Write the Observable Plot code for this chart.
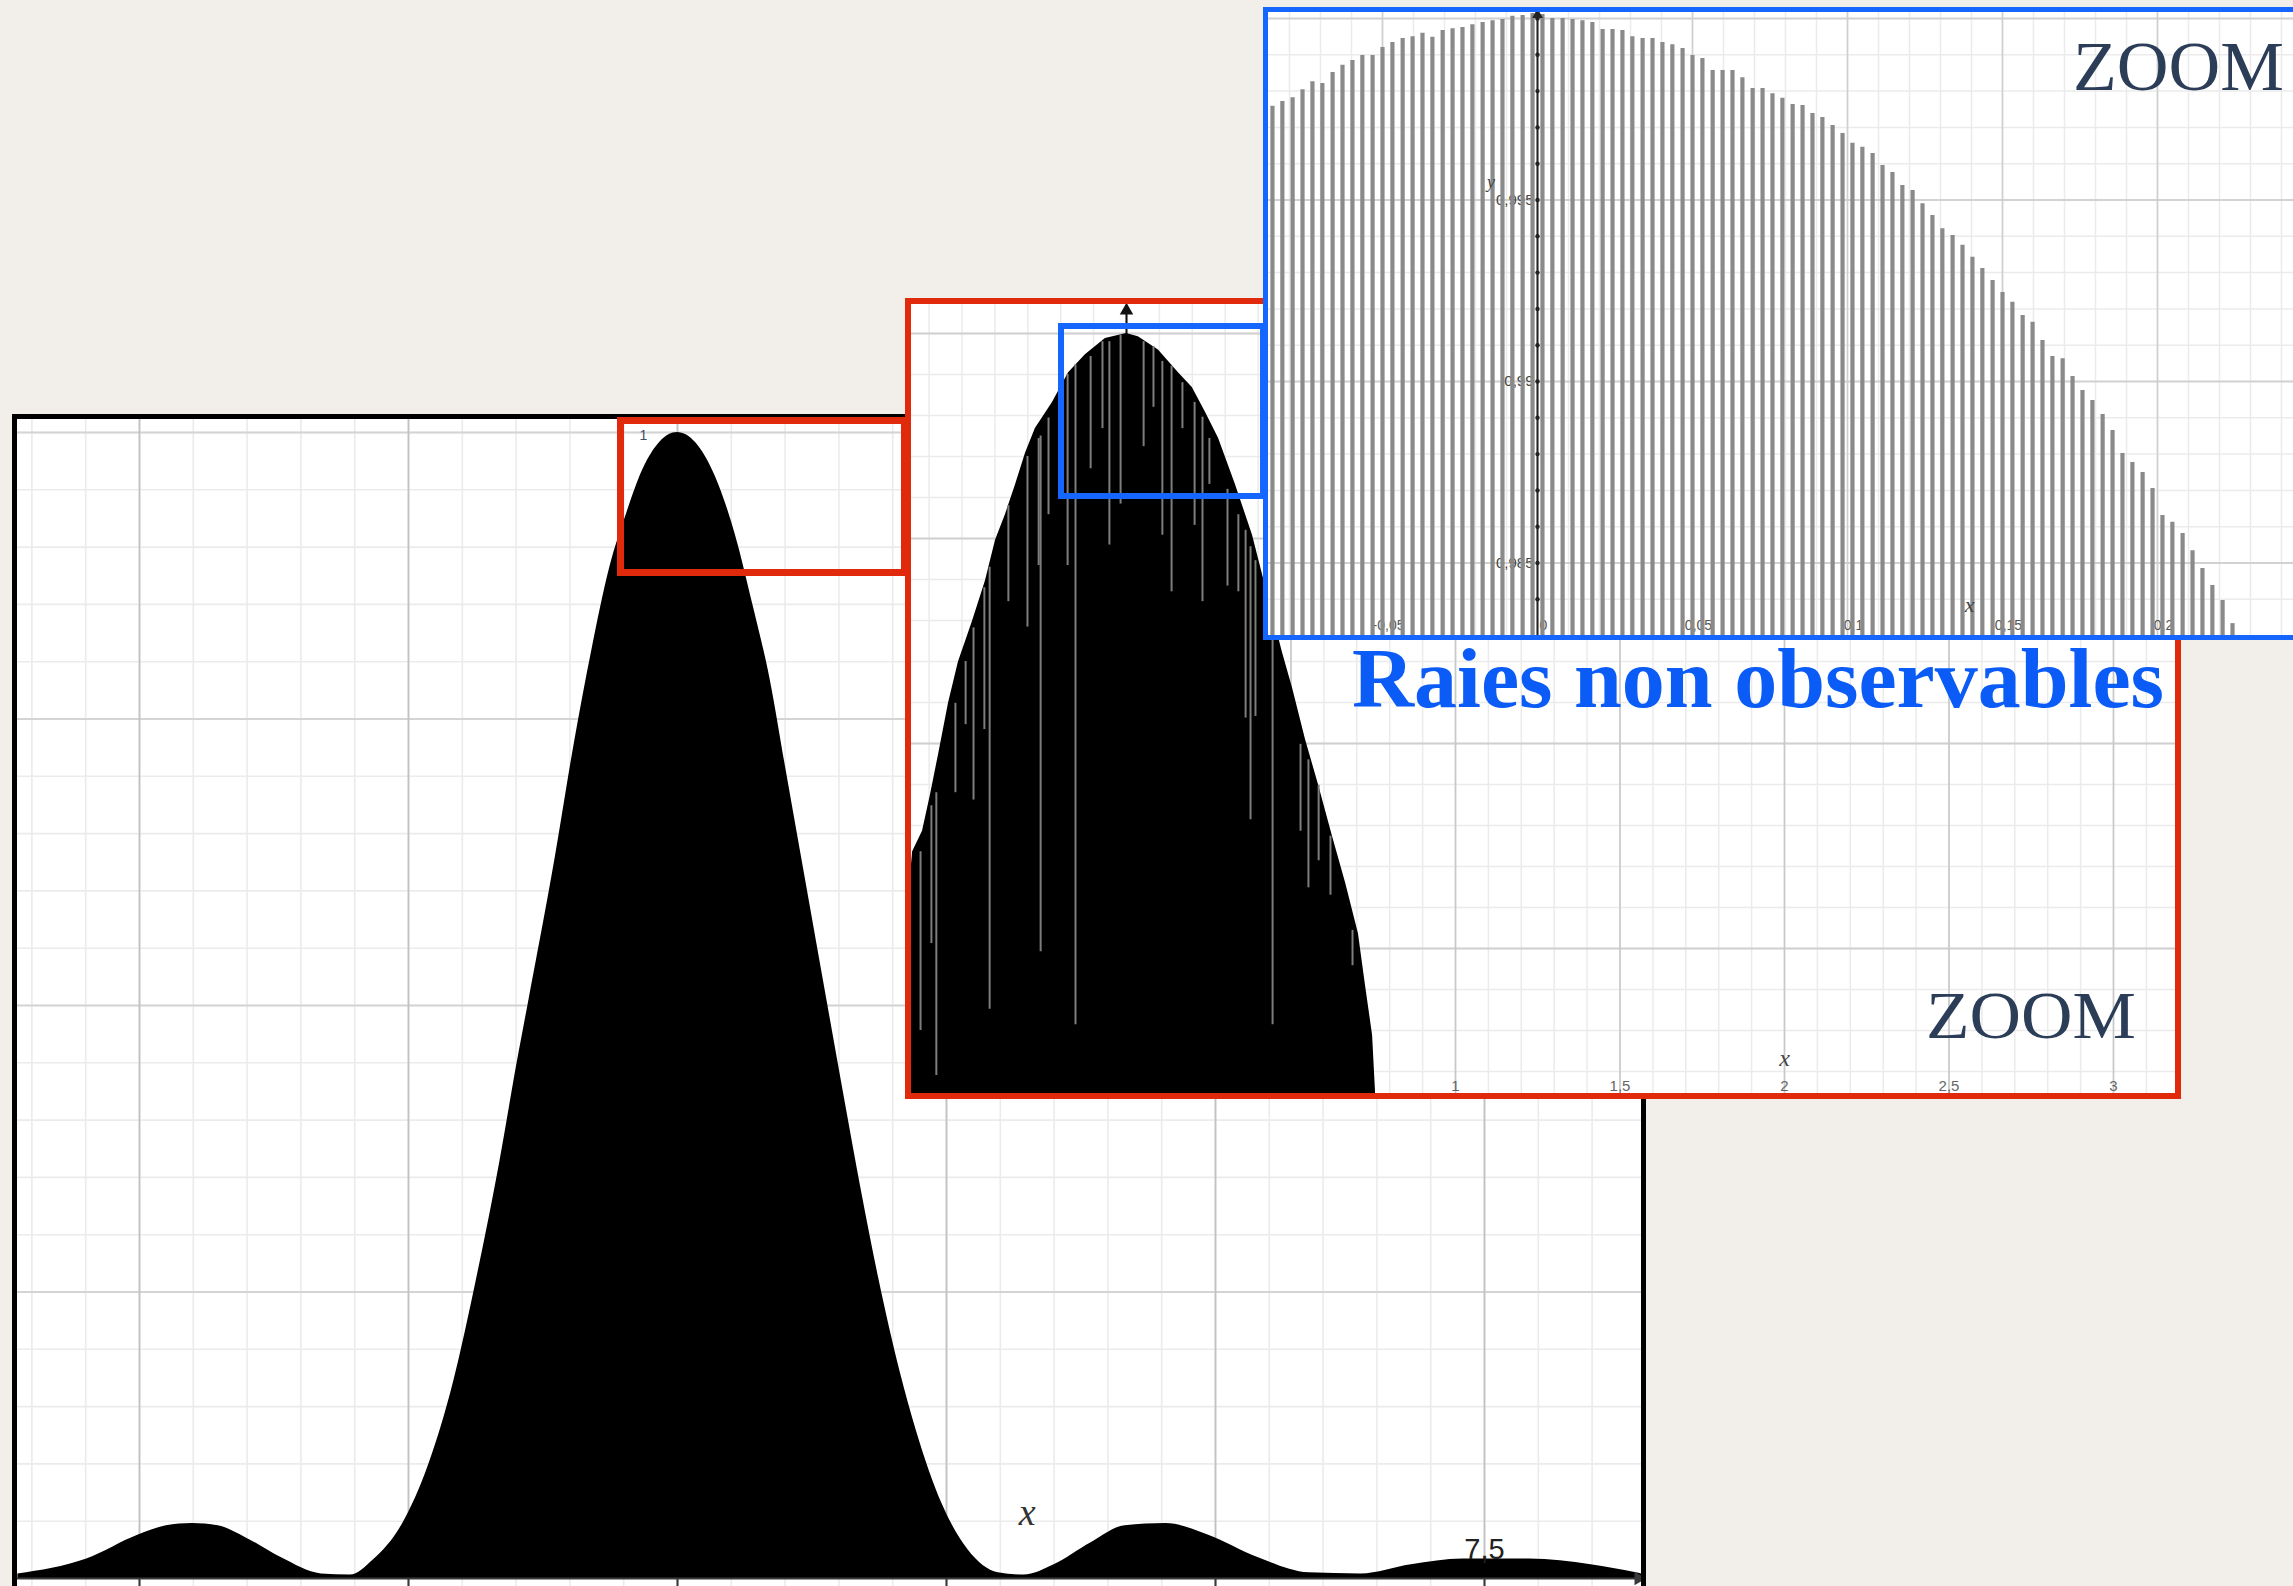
<!DOCTYPE html>
<html><head><meta charset="utf-8">
<script src="https://cdn.jsdelivr.net/npm/d3@7"></script>
<script src="https://cdn.jsdelivr.net/npm/@observablehq/plot@0.6"></script>
<style>
html,body{margin:0;padding:0;width:2293px;height:1586px;overflow:hidden;background:#f2efea;}
.panel{position:absolute;background:#fff;overflow:hidden;box-sizing:border-box;}
.panel svg{display:block;}
#overlay{position:absolute;left:0;top:0;pointer-events:none;z-index:20;}
</style></head>
<body>
<div id="main" class="panel" style="left:12px;top:414px;width:1634px;height:1205px;border:5px solid #000;z-index:1"></div>
<div id="red" class="panel" style="left:905px;top:298px;width:1276px;height:801px;border:6px solid #e12a0c;z-index:2"></div>
<div id="blue" class="panel" style="left:1263px;top:7px;width:1050px;height:633px;border:5px solid #1565ff;z-index:3"></div>
<svg id="overlay" width="2293" height="1586">
  <rect x="620.5" y="420.5" width="284" height="152" fill="none" stroke="#e12a0c" stroke-width="7"/>
  <rect x="1061" y="326" width="202" height="170" fill="none" stroke="#1565ff" stroke-width="6"/>
  <text x="1352" y="707" font-family="Liberation Serif, serif" font-weight="bold" font-size="85" fill="#0b5cf6" textLength="812" lengthAdjust="spacingAndGlyphs">Raies non observables</text>
  <text x="1926" y="1038" font-family="Liberation Serif, serif" font-size="68" fill="#2c3d58" textLength="210" lengthAdjust="spacingAndGlyphs">ZOOM</text>
  <text x="2073" y="90" font-family="Liberation Serif, serif" font-size="70" fill="#2c3d58" textLength="211" lengthAdjust="spacingAndGlyphs">ZOOM</text>
</svg>
<script>
// ---------- Main panel: full diffraction envelope ----------
const mainX = [-6.13,-5.49,-5.01,-4.75,-4.51,-4.27,-4.0,-3.68,-3.31,-3.04,-2.83,-2.56,-2.31,-2.08,-1.87,-1.65,-1.49,-1.38,-1.14,-0.96,-0.80,-0.63,-0.47,-0.32,-0.16,0,0.17,0.35,0.54,0.70,0.86,1.01,1.18,1.39,1.55,1.71,1.87,2.07,2.22,2.46,2.70,2.98,3.22,3.50,3.84,4.16,4.54,4.93,5.40,5.87,6.35,6.82,7.30,7.92,8.49,8.91,8.96];
const mainY = [0.004,0.017,0.038,0.046,0.048,0.046,0.035,0.018,0.004,0.003,0.016,0.047,0.100,0.172,0.260,0.364,0.450,0.505,0.627,0.728,0.808,0.882,0.930,0.968,0.992,1.0,0.991,0.962,0.910,0.850,0.785,0.705,0.615,0.504,0.420,0.338,0.262,0.180,0.129,0.065,0.025,0.005,0.003,0.012,0.031,0.046,0.048,0.038,0.018,0.005,0.004,0.012,0.017,0.017,0.012,0.005,0.004];
const mainMajorX = [-5,-2.5,0,2.5,5,7.5];
const mainMajorY = [0.25,0.5,0.75,1];
const mainTickLabels = [{v:7.5, t:"7,5"}];
const mainMinorX = d3.range(-6, 9.01, 0.5);
const mainMinorY = d3.range(0.05, 1.001, 0.05);

// ---------- Red panel: zoom on the central lobe ----------
const redX = [-0.654,-0.650,-0.620,-0.596,-0.571,-0.541,-0.511,-0.468,-0.429,-0.398,-0.368,-0.337,-0.307,-0.277,-0.225,-0.176,-0.125,-0.064,0,0.036,0.097,0.158,0.200,0.240,0.280,0.331,0.383,0.430,0.474,0.505,0.544,0.584,0.626,0.666,0.705,0.726,0.748,0.757,0.760];
const redY = [0.935,0.9368,0.9393,0.9437,0.9487,0.9549,0.9599,0.9649,0.9698,0.9748,0.9779,0.9816,0.9854,0.9884,0.9916,0.9952,0.9974,0.9994,1.0,0.9996,0.998,0.9952,0.9934,0.9904,0.9872,0.9816,0.9754,0.968,0.9611,0.9567,0.9505,0.9449,0.9387,0.933,0.9268,0.9206,0.9144,0.9074,0.90];
const redStreakX = [-0.626,-0.593,-0.578,-0.520,-0.489,-0.465,-0.432,-0.416,-0.359,-0.301,-0.267,-0.261,-0.237,-0.179,-0.155,-0.109,-0.073,-0.052,-0.018,0.052,0.082,0.109,0.137,0.170,0.207,0.231,0.252,0.307,0.340,0.362,0.377,0.392,0.444,0.529,0.553,0.584,0.620,0.687];
const redStreakTop = [0.9368,0.9424,0.9440,0.9549,0.9600,0.9641,0.9690,0.9715,0.9790,0.9850,0.9872,0.9875,0.9897,0.9950,0.9962,0.9972,0.9990,0.9990,0.9998,0.9990,0.9984,0.9966,0.9960,0.9940,0.9916,0.9898,0.9872,0.9810,0.9779,0.9760,0.9740,0.9723,0.9660,0.9499,0.9480,0.9449,0.9387,0.9272];
const redStreakBottom = [0.9150,0.9256,0.9095,0.9440,0.9523,0.9431,0.9517,0.9176,0.9673,0.9642,0.9717,0.9246,0.9779,0.9717,0.9157,0.9835,0.9884,0.9742,0.9792,0.9862,0.9910,0.9754,0.9685,0.9884,0.9766,0.9673,0.9816,0.9692,0.9685,0.9531,0.9407,0.9533,0.9157,0.9393,0.9324,0.9357,0.9315,0.9229];
const redMajorX = [0,0.5,1,1.5,2,2.5,3];
const redTickLabels = [{v:0.5,t:"0,5"},{v:1,t:"1"},{v:1.5,t:"1,5"},{v:2,t:"2"},{v:2.5,t:"2,5"},{v:3,t:"3"}];
const redMajorY = [0.925,0.95,0.975,1];
const redMinorX = d3.range(-0.6, 3.2, 0.1);
const redMinorY = d3.range(0.91, 1.0031, 0.005);

// ---------- Blue panel: individual lines near the maximum ----------
const blueLineX = [-0.0855,-0.0823,-0.0790,-0.0758,-0.0726,-0.0694,-0.0661,-0.0629,-0.0597,-0.0565,
-0.0532,-0.0500,-0.0468,-0.0435,-0.0403,-0.0371,-0.0339,-0.0306,-0.0274,-0.0242,
-0.0210,-0.0177,-0.0145,-0.0113,-0.0081,-0.0048,-0.0016,0.0016,0.0048,0.0081,
0.0113,0.0145,0.0177,0.0210,0.0242,0.0274,0.0306,0.0339,0.0371,0.0403,
0.0435,0.0468,0.0500,0.0532,0.0565,0.0597,0.0629,0.0661,0.0694,0.0726,
0.0758,0.0790,0.0823,0.0855,0.0887,0.0919,0.0952,0.0984,0.1016,0.1048,
0.1081,0.1113,0.1145,0.1177,0.1210,0.1242,0.1274,0.1306,0.1339,0.1371,
0.1403,0.1435,0.1468,0.1500,0.1532,0.1565,0.1597,0.1629,0.1661,0.1694,
0.1726,0.1758,0.1790,0.1823,0.1855,0.1887,0.1919,0.1952,0.1984,0.2016,
0.2048,0.2081,0.2113,0.2145,0.2177,0.2210,0.2242];
const blueLineY = [0.99758,0.99771,0.99782,0.99804,0.99826,0.99821,0.99851,0.99871,0.99884,0.99898,
0.99898,0.99920,0.99934,0.99945,0.99950,0.99959,0.99948,0.99967,0.99972,0.99975,
0.99983,0.99989,0.99994,0.99997,1.00006,1.00008,1.00014,1.00011,1.00000,1.00000,
0.99997,0.99994,0.99989,0.99970,0.99970,0.99967,0.99950,0.99945,0.99945,0.99934,
0.99928,0.99917,0.99898,0.99890,0.99857,0.99857,0.99857,0.99837,0.99807,0.99807,
0.99793,0.99780,0.99763,0.99760,0.99738,0.99727,0.99705,0.99683,0.99656,0.99645,
0.99628,0.99595,0.99576,0.99540,0.99526,0.99490,0.99457,0.99421,0.99402,0.99375,
0.99342,0.99311,0.99278,0.99245,0.99218,0.99182,0.99163,0.99113,0.99069,0.99063,
0.99014,0.98975,0.98948,0.98909,0.98865,0.98802,0.98777,0.98749,0.98705,0.98631,
0.98612,0.98581,0.98534,0.98485,0.98438,0.98397,0.98333];
const blueXLabels = [{v:-0.05,t:"-0,05"},{v:0,t:"0"},{v:0.05,t:"0,05"},{v:0.1,t:"0,1"},{v:0.15,t:"0,15"},{v:0.2,t:"0,2"}];
const blueYLabels = [{v:0.995,t:"0,995"},{v:0.99,t:"0,99"},{v:0.985,t:"0,985"}];
const blueMajorX = [-0.05,0,0.05,0.1,0.15,0.2];
const blueMajorY = [0.985,0.99,0.995,1];
const blueMinorX = d3.range(-0.08, 0.25, 0.01);
const blueMinorY = d3.range(0.984, 1.0001, 0.001);

const sans = "Liberation Sans, Arial, sans-serif";
const serif = "Liberation Serif, Times New Roman, serif";

// ---- main
const mainData = mainX.map((x, i) => ({x, y: mainY[i]}));
const mainPlot = Plot.plot({
  width: 1624, height: 1195, margin: 0,
  x: {domain: [-6.1338, 8.9591], axis: null},
  y: {domain: [-0.031414, 1.01134], axis: null},
  style: {background: "transparent"},
  marks: [
    Plot.ruleX(mainMinorX, {x: d => d, stroke: "#ebebeb", strokeWidth: 1.6}),
    Plot.ruleY(mainMinorY, {y: d => d, stroke: "#ebebeb", strokeWidth: 1.6}),
    Plot.ruleY(mainMajorY, {y: d => d, stroke: "#d4d4d4", strokeWidth: 2}),
    Plot.ruleX(mainMajorX, {x: d => d, stroke: "#c2c2c2", strokeWidth: 1.8}),
    Plot.text([{x: 0, y: 1, t: "1"}], {x: "x", y: "y", text: "t", dx: -34, dy: 3, fontSize: 14, fill: "#39506a", fontFamily: sans}),
    Plot.areaY(mainData, {x: "x", y: "y", fill: "#000", curve: "monotone-x", clip: true}),
    Plot.ruleY([0], {y: d => d, stroke: "#3a3a3a", strokeWidth: 2.2}),
    Plot.ruleX(mainMajorX, {x: d => d, y1: () => 0, y2: () => -0.008, stroke: "#3a3a3a", strokeWidth: 2}),
    Plot.dot([{x: 8.93, y: 0}], {x: "x", y: "y", symbol: "triangle", rotate: 90, r: 5, fill: "#3a3a3a"}),
    Plot.text(mainTickLabels, {x: "v", y: () => 0, text: "t", dy: -29, fontSize: 29, fill: "#222", fontFamily: sans}),
    Plot.text([{x: 3.25, y: 0, t: "x"}], {x: "x", y: "y", text: "t", dy: -66, fontSize: 38, fontStyle: "italic", fill: "#333", fontFamily: serif})
  ]
});
document.getElementById("main").appendChild(mainPlot);

// ---- red
const redData = redX.map((x, i) => ({x, y: redY[i]}));
const redStreaks = redStreakX.map((x, i) => ({x, top: redStreakTop[i], bottom: redStreakBottom[i]}));
const redPlot = Plot.plot({
  width: 1264, height: 789, margin: 0,
  x: {domain: [-0.65350, 3.18845], axis: null},
  y: {domain: [0.907317, 1.003537], axis: null},
  style: {background: "transparent"},
  marks: [
    Plot.ruleX(redMinorX, {x: d => d, stroke: "#ebebeb", strokeWidth: 1.5}),
    Plot.ruleY(redMinorY, {y: d => d, stroke: "#ebebeb", strokeWidth: 1.5}),
    Plot.ruleY(redMajorY, {y: d => d, stroke: "#d0d0d0", strokeWidth: 1.8}),
    Plot.ruleX(redMajorX, {x: d => d, stroke: "#c8c8c8", strokeWidth: 1.6}),
    Plot.text(redTickLabels, {x: "v", y: () => 0.907317, text: "t", dy: -3, lineAnchor: "bottom", fontSize: 15, fill: "#666", fontFamily: sans}),
    Plot.text([{x: 2, y: 0.9116, t: "x"}], {x: "x", y: "y", text: "t", fontSize: 24, fontStyle: "italic", fill: "#444", fontFamily: serif}),
    Plot.ruleX([0], {x: d => d, y1: () => 0.99, y2: () => 1.0030, stroke: "#111", strokeWidth: 2}),
    Plot.dot([{x: 0, y: 1.0028}], {x: "x", y: "y", symbol: "triangle", r: 5, fill: "#111"}),
    Plot.areaY(redData, {x: "x", y1: () => 0.90, y2: "y", fill: "#000", clip: true}),
    Plot.ruleX(redStreaks, {x: "x", y1: "bottom", y2: "top", stroke: "#7d7d7d", strokeWidth: 2, clip: true})
  ]
});
document.getElementById("red").appendChild(redPlot);

// ---- blue
const blueData = blueLineX.map((x, i) => ({x, y: blueLineY[i]}));
const bluePlot = Plot.plot({
  width: 1040, height: 623, margin: 0,
  x: {domain: [-0.086774, 0.248710], axis: null},
  y: {domain: [0.983003, 1.000165], axis: null},
  style: {background: "transparent"},
  marks: [
    Plot.ruleX(blueMinorX, {x: d => d, stroke: "#ebebeb", strokeWidth: 1.5}),
    Plot.ruleY(blueMinorY, {y: d => d, stroke: "#ebebeb", strokeWidth: 1.5}),
    Plot.ruleY(blueMajorY, {y: d => d, stroke: "#d2d2d2", strokeWidth: 1.8}),
    Plot.ruleX(blueMajorX, {x: d => d, stroke: "#cfcfcf", strokeWidth: 1.6}),
    Plot.text(blueYLabels, {x: () => 0, y: "v", text: "t", dx: -4, textAnchor: "end", fontSize: 15, fill: "#444", fontFamily: sans}),
    Plot.text(blueXLabels, {x: "v", y: () => 0.983003, text: "t", dx: 6, dy: -6, lineAnchor: "bottom", fontSize: 14, fill: "#555", fontFamily: sans}),
    Plot.ruleX(blueData, {x: "x", y1: () => 0.98, y2: "y", stroke: "#8a8a8a", strokeWidth: 4.2, clip: true}),
    Plot.ruleX([0], {x: d => d, stroke: "#222", strokeWidth: 2}),
    Plot.dot(blueMinorY, {x: () => 0, y: d => d, r: 2.2, fill: "#222"}),
    Plot.dot([{x: 0, y: 1.0001}], {x: "x", y: "y", symbol: "triangle", r: 4, fill: "#222"}),
    Plot.text([{x: 0.1394, y: 0.98385, t: "x"}], {x: "x", y: "y", text: "t", fontSize: 22, fontStyle: "italic", fill: "#444", fontFamily: serif}),
    Plot.text([{x: -0.015, y: 0.99548, t: "y"}], {x: "x", y: "y", text: "t", fontSize: 18, fontStyle: "italic", fill: "#444", fontFamily: serif})
  ]
});
document.getElementById("blue").appendChild(bluePlot);
</script>
</body></html>
